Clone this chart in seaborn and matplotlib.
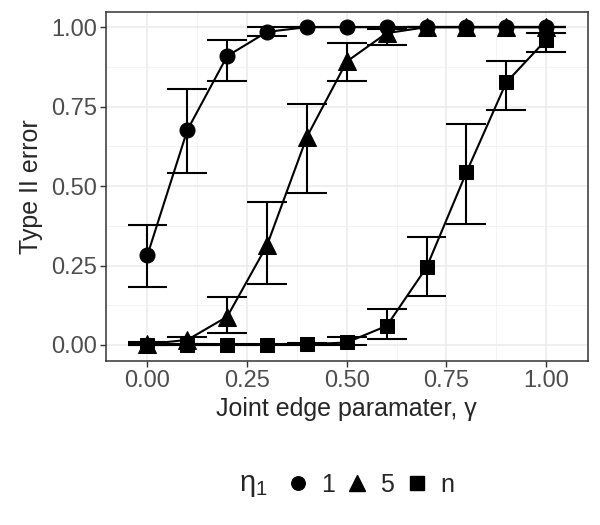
import numpy as np
import pandas as pd
import matplotlib
matplotlib.use("Agg")
import matplotlib.pyplot as plt
from matplotlib.lines import Line2D
import seaborn as sns

# ── data ──
gamma = [0.0, 0.1, 0.2, 0.3, 0.4, 0.5, 0.6, 0.7, 0.8, 0.9, 1.0]

err_eta1 = [0.283, 0.676, 0.909, 0.985, 1.0, 1.0, 1.0, 1.0, 1.0, 1.0, 1.0]
lo_eta1 = [0.182, 0.541, 0.830, 0.972, 1.0, 1.0, 1.0, 1.0, 1.0, 1.0, 1.0]
hi_eta1 = [0.377, 0.805, 0.959, 0.999, 1.0, 1.0, 1.0, 1.0, 1.0, 1.0, 1.0]

err_eta5 = [0.003, 0.016, 0.089, 0.314, 0.655, 0.892, 0.981, 1.0, 1.0, 1.0, 1.0]
lo_eta5 = [0.0, 0.003, 0.037, 0.193, 0.477, 0.831, 0.944, 1.0, 1.0, 1.0, 1.0]
hi_eta5 = [0.008, 0.026, 0.150, 0.451, 0.757, 0.949, 0.995, 1.0, 1.0, 1.0, 1.0]

err_etan = [0.0, 0.0, 0.0, 0.0, 0.002, 0.008, 0.060, 0.244, 0.543, 0.826, 0.960]
lo_etan = [0.0, 0.0, 0.0, 0.0, 0.0, 0.0, 0.018, 0.155, 0.380, 0.738, 0.923]
hi_etan = [0.002, 0.002, 0.002, 0.002, 0.006, 0.025, 0.112, 0.339, 0.696, 0.894, 0.980]

eta_levels = ["1", "5", "n"]
MARKERS = {"1": "o", "5": "^", "n": "s"}
MSIZE = {"o": 10.8, "^": 13, "s": 10.5}

frames = []
for lev, y, lo, hi in [("1", err_eta1, lo_eta1, hi_eta1),
                       ("5", err_eta5, lo_eta5, hi_eta5),
                       ("n", err_etan, lo_etan, hi_etan)]:
    frames.append(pd.DataFrame({"gamma": gamma, "err": y, "lo": lo, "hi": hi, "eta": lev}))
df = pd.concat(frames, ignore_index=True)

sns.set_theme(style="whitegrid")
plt.rcParams.update({
    "font.family": ["Liberation Sans", "DejaVu Sans"],
    "mathtext.fontset": "custom",
    "mathtext.rm": "Liberation Sans",
})

fig = plt.figure(figsize=(6.0, 5.25), dpi=100)
ax = fig.add_axes([0.176, 0.312, 0.804, 0.666])

for lev in eta_levels:
    sub = df[df["eta"] == lev]
    # error bars (cap width 0.1)
    ax.vlines(sub["gamma"], sub["lo"], sub["hi"], color="black", lw=1.5, zorder=3)
    ax.hlines(sub["lo"], sub["gamma"] - 0.05, sub["gamma"] + 0.05, color="black", lw=1.5, zorder=3)
    ax.hlines(sub["hi"], sub["gamma"] - 0.05, sub["gamma"] + 0.05, color="black", lw=1.5, zorder=3)

sns.lineplot(data=df, x="gamma", y="err", style="eta", markers=MARKERS, dashes=False,
             color="black", markersize=10, markeredgecolor="black", linewidth=1.5,
             legend=False, ax=ax, zorder=4)
for ln in ax.lines:
    m = ln.get_marker()
    if m in MSIZE:
        ln.set_markersize(MSIZE[m])

ax.set_xlim(-0.105, 1.105)
ax.set_ylim(-0.051, 1.049)
ax.set_xticks([0, 0.25, 0.5, 0.75, 1.0])
ax.set_yticks([0, 0.25, 0.5, 0.75, 1.0])
ax.set_xticks([0.125, 0.375, 0.625, 0.875], minor=True)
ax.set_yticks([0.125, 0.375, 0.625, 0.875], minor=True)
ax.set_xticklabels(["0.00", "0.25", "0.50", "0.75", "1.00"])
ax.set_yticklabels(["0.00", "0.25", "0.50", "0.75", "1.00"])
ax.grid(which="major", color="#EBEBEB", lw=1.1)
ax.grid(which="minor", color="#F2F2F2", lw=0.6)
ax.set_axisbelow(True)
ax.tick_params(axis="both", which="major", labelsize=17, labelcolor="#4D4D4D",
               length=4, width=1, color="#333333", bottom=True, left=True, pad=2)
ax.tick_params(which="minor", length=0)
for s in ax.spines.values():
    s.set_color("#333333")
    s.set_linewidth(1.1)
ax.set_facecolor("white")

ax.set_xlabel("Joint edge paramater, γ", fontsize=18, labelpad=4)
ax.set_ylabel("Type II error", fontsize=18, labelpad=6)

# legend at the bottom
fig.text(0.447, 0.076, r"$\mathregular{η_1}$", fontsize=21, ha="right", va="center")
handles = [Line2D([], [], ls="none", marker=MARKERS[l], color="black",
                  markersize=MSIZE[MARKERS[l]] * 0.9)
           for l in eta_levels]
fig.legend(handles, eta_levels, loc="center", bbox_to_anchor=(0.615, 0.076), ncol=3,
           frameon=False, fontsize=18, handletextpad=0.38, columnspacing=0.35,
           handlelength=1.1)

fig.savefig("out.png", dpi=100)
